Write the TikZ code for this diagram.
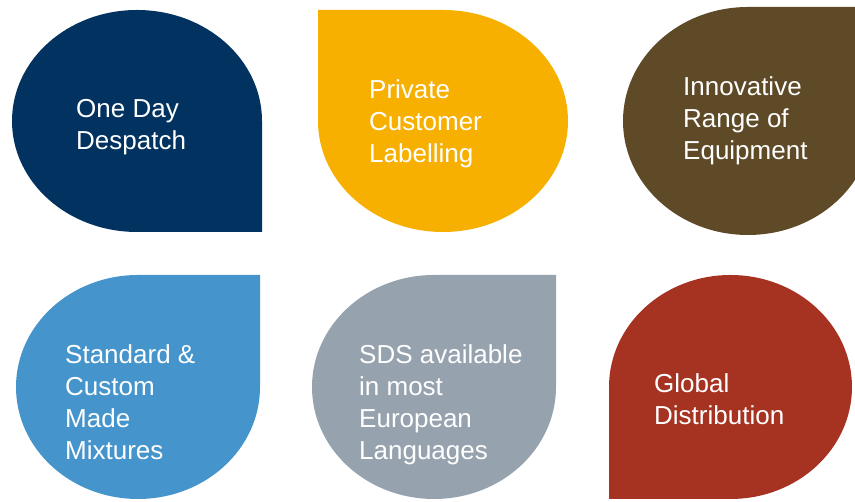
\documentclass[tikz,border=0pt]{standalone}
\usepackage{fontspec}
\setmainfont{Liberation Sans}
\definecolor{cdblue}{HTML}{02325F}
\definecolor{cyellow}{HTML}{F7AF00}
\definecolor{cbrown}{HTML}{5F4A28}
\definecolor{clblue}{HTML}{4595CC}
\definecolor{cgray}{HTML}{96A3AE}
\definecolor{cred}{HTML}{A63322}
\begin{document}
\begin{tikzpicture}[x=1pt,y=1pt,
  lbl/.style={anchor=base west,align=left,inner sep=0pt,text=white,
    font=\fontsize{26}{32}\selectfont}]
\useasboundingbox (0,0) rectangle (855,502);
\clip (0,0) rectangle (855,502);
% One Day Despatch (square corner bottom-right)
\fill[cdblue] (137,270) -- (262,270) -- (262,381)
  arc[start angle=0,end angle=270,x radius=125,y radius=111] -- cycle;
% Private Customer Labelling (square corner top-left)
\fill[cyellow] (318,381) -- (318,492) -- (443,492)
  arc[start angle=90,end angle=-180,x radius=125,y radius=111] -- cycle;
% Innovative Range of Equipment (square corner top-right)
\fill[cbrown] (873,381) -- (873,495) -- (748,495)
  arc[start angle=90,end angle=360,x radius=125,y radius=114] -- cycle;
% Standard & Custom Made Mixtures (square corner top-right)
\fill[clblue] (260,115) -- (260,227) -- (138,227)
  arc[start angle=90,end angle=360,x radius=122,y radius=112] -- cycle;
% SDS (square corner top-right)
\fill[cgray] (556,115) -- (556,227) -- (434,227)
  arc[start angle=90,end angle=360,x radius=122,y radius=112] -- cycle;
% Global Distribution (square corner bottom-left)
\fill[cred] (609,115) -- (609,3) -- (730.5,3)
  arc[start angle=270,end angle=540,x radius=121.5,y radius=112] -- cycle;
% labels (anchored at the baseline of the last line)
\node[lbl] (t1) at (76,352) {One Day\\Despatch};
\node[lbl] (t2) at (369,339) {Private\\Customer\\Labelling};
\node[lbl] (t3) at (683,342) {Innovative\\Range of\\Equipment};
\node[lbl] (t4) at (65,42) {Standard \&\\Custom\\Made\\Mixtures};
\node[lbl] (t5) at (359,42) {SDS available\\in most\\European\\Languages};
\node[lbl] (t6) at (654,77) {Global\\Distribution};
\end{tikzpicture}
\end{document}
